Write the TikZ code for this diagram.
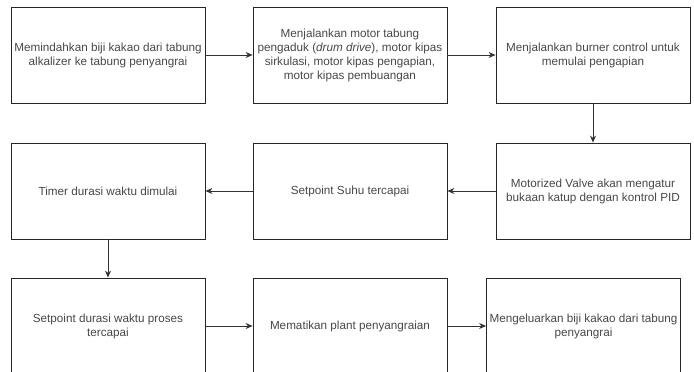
\documentclass[tikz,border=0pt]{standalone}
\usepackage{fontspec}
\setmainfont{Liberation Sans}
\usepackage{tikz}
\usetikzlibrary{positioning, arrows.meta}

\begin{document}
\begin{tikzpicture}[x=1pt,y=-1pt,
    langkah/.style={draw=black!85,line width=.8pt,minimum width=194pt,
        minimum height=96pt,inner sep=0pt,align=center,text=black!72,
        font=\fontsize{11.7}{14}\selectfont},
    panah/.style={-{Stealth[length=7pt,width=6pt]},line width=1pt,black!80}]
            \useasboundingbox (0,0) rectangle (694,372);
            % baris pertama
            \node[langkah] (pindah) at (108,55)
                {Memindahkan biji kakao dari tabung\\alkalizer ke tabung penyangrai};
            \node[langkah] (motor) at (350,55)
                {Menjalankan motor tabung\\pengaduk (\textit{drum drive}), motor kipas\\sirkulasi, motor kipas pengapian,\\motor kipas pembuangan};
            \node[langkah] (burner) at (593,55)
                {Menjalankan burner control untuk\\memulai pengapian};
            % baris kedua
            \node[langkah] (timer) at (108,191) {Timer durasi waktu dimulai};
            \node[langkah] (suhu) at (350,191) {Setpoint Suhu tercapai};
            \node[langkah] (valve) at (593,191)
                {Motorized Valve akan mengatur\\bukaan katup dengan kontrol PID};
            % baris ketiga
            \node[langkah] (durasi) at (108,326)
                {Setpoint durasi waktu proses\\tercapai};
            \node[langkah] (matikan) at (350,326) {Mematikan plant penyangraian};
            \node[langkah] (keluar) at (583.5,326)
                {Mengeluarkan biji kakao dari tabung\\penyangrai};
            \draw[panah] (pindah) -- (motor);
            \draw[panah] (motor) -- (burner);
            \draw[panah] (burner) -- (valve);
            \draw[panah] (valve) -- (suhu);
            \draw[panah] (suhu) -- (timer);
            \draw[panah] (timer) -- (durasi);
            \draw[panah] (durasi) -- (matikan);
            \draw[panah] (matikan) -- (keluar);
        \end{tikzpicture}
\end{document}
